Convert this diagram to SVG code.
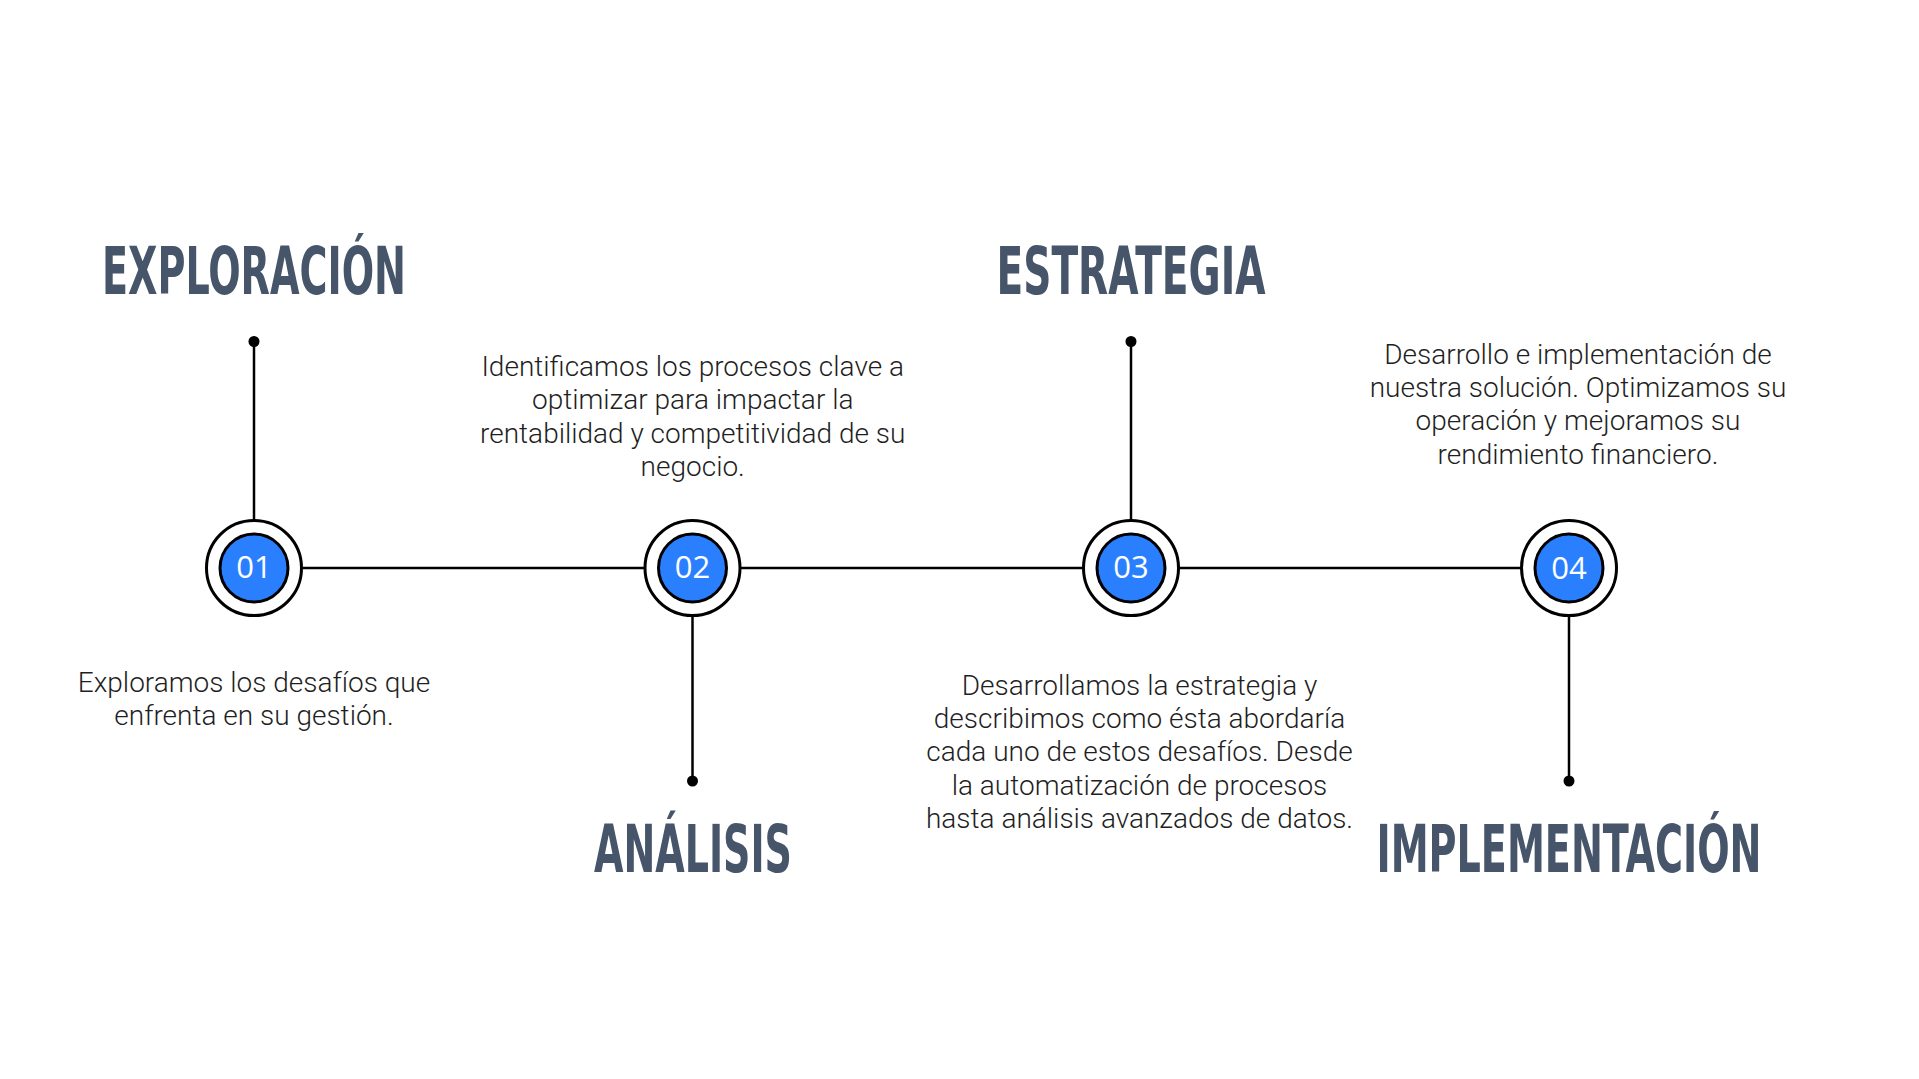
<svg xmlns="http://www.w3.org/2000/svg" width="1919" height="1079" viewBox="0 0 1919 1079">
  <style>
    .title { font-family: "Liberation Sans Narrow", "DejaVu Sans Condensed", "Liberation Sans", sans-serif; font-weight: 700; font-size: 65px; fill: #465569; text-anchor: middle; }
    .body { font-family: Roboto, "Open Sans", sans-serif; font-weight: 300; font-size: 28px; fill: #1f1f1f; text-anchor: middle; }
    .num { font-family: "Open Sans", "Noto Sans", sans-serif; font-weight: 400; font-size: 31px; fill: #ffffff; text-anchor: middle; }
    .line { stroke: #000; stroke-width: 2.5; fill: none; }
    .outer { fill: #ffffff; stroke: #000; stroke-width: 3; }
    .inner { fill: #2a7fff; stroke: #000; stroke-width: 3; }
    .dot { fill: #000; }
  </style>
  <rect width="1919" height="1079" fill="#ffffff"/>
  <g id="connectors">
    <line class="line" x1="254" y1="568" x2="1569" y2="568"/>
    <line class="line" x1="254" y1="341.5" x2="254" y2="520"/>
    <circle class="dot" cx="254" cy="341.5" r="5.5"/>
    <line class="line" x1="692.5" y1="616" x2="692.5" y2="781"/>
    <circle class="dot" cx="692.5" cy="781" r="5.5"/>
    <line class="line" x1="1131" y1="341.5" x2="1131" y2="520"/>
    <circle class="dot" cx="1131" cy="341.5" r="5.5"/>
    <line class="line" x1="1569" y1="616" x2="1569" y2="781"/>
    <circle class="dot" cx="1569" cy="781" r="5.5"/>
  </g>
  <g id="node-01">
    <circle class="outer" cx="254" cy="568" r="47.5"/>
    <circle class="inner" cx="254" cy="568" r="34"/>
    <text class="num" x="254" y="578">01</text>
    <text class="title" x="254" y="294" textLength="304" lengthAdjust="spacingAndGlyphs">EXPLORACIÓN</text>
    <text class="body" x="254" y="691.7">Exploramos los desafíos que</text>
    <text class="body" x="254" y="725">enfrenta en su gestión.</text>
  </g>
  <g id="node-02">
    <circle class="outer" cx="692.5" cy="568" r="47.5"/>
    <circle class="inner" cx="692.5" cy="568" r="34"/>
    <text class="num" x="692.5" y="578">02</text>
    <text class="title" x="693" y="872" textLength="198" lengthAdjust="spacingAndGlyphs">ANÁLISIS</text>
    <text class="body" x="692.7" y="376">Identificamos los procesos clave a</text>
    <text class="body" x="692.7" y="409.4">optimizar para impactar la</text>
    <text class="body" x="692.7" y="442.8">rentabilidad y competitividad de su</text>
    <text class="body" x="692.7" y="476.2">negocio.</text>
  </g>
  <g id="node-03">
    <circle class="outer" cx="1131" cy="568" r="47.5"/>
    <circle class="inner" cx="1131" cy="568" r="34"/>
    <text class="num" x="1131" y="578">03</text>
    <text class="title" x="1131" y="294" textLength="269" lengthAdjust="spacingAndGlyphs">ESTRATEGIA</text>
    <text class="body" x="1139.5" y="694.5">Desarrollamos la estrategia y</text>
    <text class="body" x="1139.5" y="727.9">describimos como ésta abordaría</text>
    <text class="body" x="1139.5" y="761.3">cada uno de estos desafíos. Desde</text>
    <text class="body" x="1139.5" y="794.7">la automatización de procesos</text>
    <text class="body" x="1139.5" y="828.1">hasta análisis avanzados de datos.</text>
  </g>
  <g id="node-04">
    <circle class="outer" cx="1569" cy="568" r="47.5"/>
    <circle class="inner" cx="1569" cy="568" r="34"/>
    <text class="num" x="1569" y="579">04</text>
    <text class="title" x="1569" y="872" textLength="385" lengthAdjust="spacingAndGlyphs">IMPLEMENTACIÓN</text>
    <text class="body" x="1578" y="363.5">Desarrollo e implementación de</text>
    <text class="body" x="1578" y="396.9">nuestra solución. Optimizamos su</text>
    <text class="body" x="1578" y="430.3">operación y mejoramos su</text>
    <text class="body" x="1578" y="463.7">rendimiento financiero.</text>
  </g>
</svg>
